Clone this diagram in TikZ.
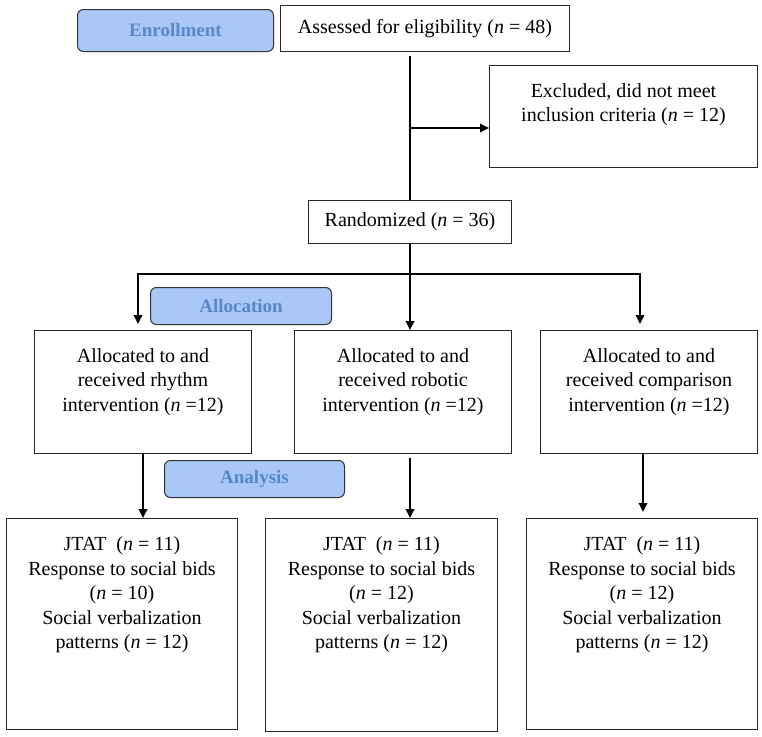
\documentclass[tikz,border=0pt]{standalone}
\usepackage{fontspec}
\setmainfont{Liberation Serif}
\usetikzlibrary{arrows.meta}
\definecolor{phasefill}{HTML}{A9C7F7}
\definecolor{phasetext}{HTML}{5A87C6}
\newcommand\cfbody{\fontsize{20}{24.5}\selectfont}
\begin{document}
\begin{tikzpicture}[x=1pt,y=-1pt,
  box/.style={draw=black!85, line width=1pt, rectangle, inner sep=0pt, anchor=north west, font=\cfbody},
  phase/.style={draw=black!80, line width=1pt, fill=phasefill, rounded corners=6pt, inner sep=0pt, anchor=north west, font=\fontsize{19}{22}\selectfont\bfseries, text=phasetext},
  txt/.style={anchor=north, align=center, inner sep=0pt, font=\cfbody},
  conn/.style={line width=1.8pt},
  arr/.style={conn, -{Triangle[length=9pt,width=8.5pt]}}
]
\useasboundingbox (0,0) rectangle (762,736);
% phase labels
\node[phase, minimum width=196pt, minimum height=42pt] (enroll) at (77,9) {Enrollment};
\node[phase, minimum width=181pt, minimum height=37pt] (alloc) at (150,287) {Allocation};
\node[phase, minimum width=180pt, minimum height=37pt] (analysis) at (164,460) {Analysis};
% boxes
\node[box, minimum width=289pt, minimum height=46pt] (assess) at (280,5) {Assessed for eligibility (\textit{n} = 48)};
\node[box, minimum width=268pt, minimum height=102pt,
  label={[txt,yshift=-18pt]north:{Excluded, did not meet\\inclusion criteria (\textit{n} = 12)}}] (excl) at (489,65) {};
\node[box, minimum width=203pt, minimum height=43pt] (rand) at (308,200) {Randomized (\textit{n} = 36)};
\node[box, minimum width=217pt, minimum height=123pt,
  label={[txt,yshift=-18pt]north:{Allocated to and\\received rhythm\\intervention (\textit{n} =12)}}] (a1) at (34,330) {};
\node[box, minimum width=217pt, minimum height=123pt,
  label={[txt,yshift=-18pt]north:{Allocated to and\\received robotic\\intervention (\textit{n} =12)}}] (a2) at (294,330) {};
\node[box, minimum width=217pt, minimum height=123pt,
  label={[txt,yshift=-18pt]north:{Allocated to and\\received comparison\\intervention (\textit{n} =12)}}] (a3) at (540,330) {};
\node[box, minimum width=231pt, minimum height=211pt,
  label={[txt,yshift=-18.5pt]north:{JTAT\hspace{0.5em}(\textit{n} = 11)\\Response to social bids\\(\textit{n} = 10)\\Social verbalization\\patterns (\textit{n} = 12)}}] (b1) at (6,518) {};
\node[box, minimum width=232pt, minimum height=213pt,
  label={[txt,yshift=-18.5pt]north:{JTAT\hspace{0.5em}(\textit{n} = 11)\\Response to social bids\\(\textit{n} = 12)\\Social verbalization\\patterns (\textit{n} = 12)}}] (b2) at (265,518) {};
\node[box, minimum width=231pt, minimum height=211pt,
  label={[txt,yshift=-18.5pt]north:{JTAT\hspace{0.5em}(\textit{n} = 11)\\Response to social bids\\(\textit{n} = 12)\\Social verbalization\\patterns (\textit{n} = 12)}}] (b3) at (526,518) {};
% connectors
\draw[conn] ([yshift=-4pt]rand.north |- assess.south) -- (rand.north);
\coordinate (j1) at (rand.north |- 0,128);
\draw[arr] (j1) -- (j1 -| excl.west);
\coordinate (split) at (rand.south |- 0,274);
\coordinate (tl) at (138,324);
\coordinate (tr) at (640,324);
\draw[conn] (rand.south) -- (split);
\draw[arr] (split) -| (tl);
\draw[arr] (split) -| (tr);
\draw[arr] (split) -- (split |- a2.north);
\draw[arr] (a1.south) -- (a1.south |- b1.north);
\coordinate (c2) at (rand.south |- 0,458);
\draw[arr] (c2) -- (c2 |- b2.north);
\coordinate (c3) at (643,453);
\coordinate (c4) at (643,512);
\draw[arr] (c3) -- (c4);
\end{tikzpicture}
\end{document}
